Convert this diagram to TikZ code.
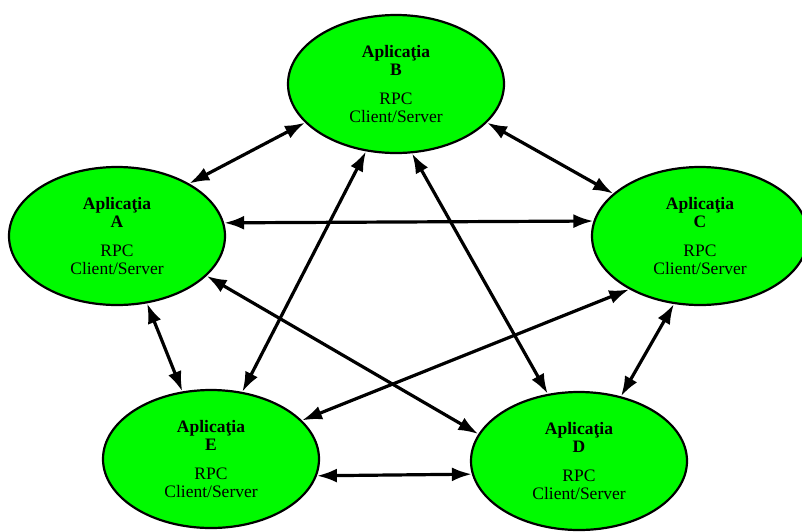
\documentclass[tikz,border=0pt]{standalone}
\usepackage{fontspec}
\setmainfont{Liberation Serif}
\usetikzlibrary{arrows.meta,shapes.geometric}
\definecolor{appgreen}{RGB}{0,250,0}

\begin{document}
\begin{tikzpicture}[
  x=1pt, y=-1pt,
  app/.style={draw, ellipse, line width=2.2pt, fill=appgreen, minimum width=216pt, minimum height=138pt, inner sep=0pt, align=center, font=\fontsize{17.5}{18}\selectfont},
  link/.style={{Latex[length=20pt,width=14pt]}-{Latex[length=20pt,width=14pt]}, line width=3.2pt}
]
\useasboundingbox (0,0) rectangle (802,531);
\node[app] (appB) at (396,84) {\textbf{Aplicaţia}\\\textbf{B}\\[11pt]RPC\\Client/Server};
\node[app] (appA) at (117,236) {\textbf{Aplicaţia}\\\textbf{A}\\[11pt]RPC\\Client/Server};
\node[app] (appC) at (700,236) {\textbf{Aplicaţia}\\\textbf{C}\\[11pt]RPC\\Client/Server};
\node[app] (appE) at (211,459) {\textbf{Aplicaţia}\\\textbf{E}\\[11pt]RPC\\Client/Server};
\node[app] (appD) at (579,461) {\textbf{Aplicaţia}\\\textbf{D}\\[11pt]RPC\\Client/Server};

\draw[link] (appA.36) -- (appB.203);
\draw[link] (appB.337) -- (appC.154);
\draw[link] (appA.7) -- (appC.172);
\draw[link] (appA.294) -- (appE.113);
\draw[link] (appA.336) -- (appD.165);
\draw[link] (appB.246) -- (appE.65);
\draw[link] (appB.283) -- (appD.115);
\draw[link] (appC.217) -- (appE.23);
\draw[link] (appC.249) -- (appD.57);
\draw[link] (appE.351) -- (appD.187);
\end{tikzpicture}
\end{document}
